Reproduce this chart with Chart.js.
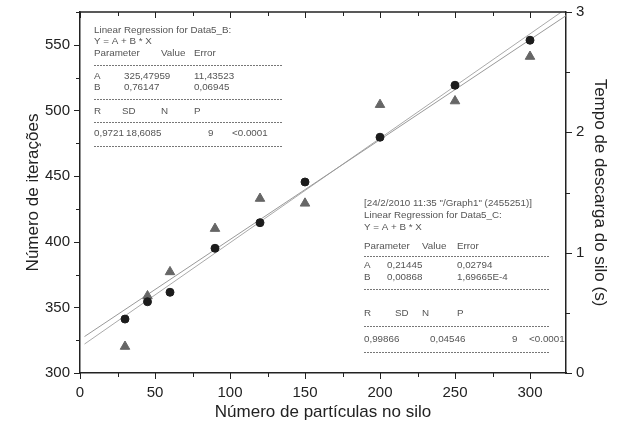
<!DOCTYPE html>
<html>
<head>
<meta charset="utf-8">
<script src="https://cdn.jsdelivr.net/npm/chart.js@4.4.1/dist/chart.umd.min.js"></script>
<style>
html, body { margin: 0; padding: 0; background: #fff; }
#wrap { width: 620px; height: 431px; }
</style>
</head>
<body>
<div id="wrap"><canvas id="grafico"></canvas></div>
<script>
// dados
var particulas = [30, 45, 60, 90, 120, 150, 200, 250, 300];
var iteracoes = [341.1, 354.3, 361.5, 395.0, 414.5, 445.5, 479.6, 519.2, 553.5];
var tempoDescarga = [0.22, 0.64, 0.84, 1.20, 1.45, 1.41, 2.23, 2.26, 2.63];

// parametros das regressoes (das caixas de texto)
var regB = [325.47959, 0.76147];
var regC = [0.21445, 0.00868];
var retaX = [3, 330];

var fonte = "'Liberation Sans', Arial, sans-serif";

function pontos(xs, ys) {
    return xs.map(function (x, i) { return {x: x, y: ys[i]}; });
}

function reta(par) {
    return retaX.map(function (x) { return {x: x, y: par[0] + par[1] * x}; });
}

function linha(ctx, x1, y1, x2, y2) {
    ctx.beginPath();
    ctx.moveTo(x1, y1);
    ctx.lineTo(x2, y2);
    ctx.stroke();
}

function semPadding(s) {
    s.paddingTop = 0;
    s.paddingBottom = 0;
}

var marcasEixos = {
    id: 'marcasEixos',
    afterDraw: function (chart) {
        var ctx = chart.ctx, a = chart.chartArea;
        var sx = chart.scales.x, sy = chart.scales.y, sy2 = chart.scales.y2;
        ctx.save();
        ctx.strokeStyle = '#222';
        ctx.lineWidth = 1.5;
        linha(ctx, a.left, a.top, a.right, a.top);
        ctx.lineWidth = 1;
        var v, p, len;
        for (v = 0; v <= sx.max; v += 25) {
            p = Math.round(sx.getPixelForValue(v)) + 0.5;
            len = v % 50 === 0 ? 6 : 4;
            linha(ctx, p, a.bottom, p, a.bottom + len);
            linha(ctx, p, a.top, p, a.top + len);
        }
        for (v = sy.min; v <= sy.max; v += 25) {
            p = Math.round(sy.getPixelForValue(v)) + 0.5;
            len = v % 50 === 0 ? 6 : 4;
            linha(ctx, a.left, p, a.left - len, p);
        }
        for (v = 0; v <= sy2.max; v += 0.5) {
            p = Math.round(sy2.getPixelForValue(v)) + 0.5;
            len = v % 1 === 0 ? 6 : 4;
            linha(ctx, a.right, p, a.right + len, p);
        }
        ctx.restore();
    }
};

var caixasTexto = {
    id: 'caixasTexto',
    afterDraw: function (chart) {
        var ctx = chart.ctx;
        ctx.save();
        ctx.font = '9.8px ' + fonte;
        ctx.fillStyle = '#555';
        ctx.textBaseline = 'middle';
        var t = function (s, x, y) { ctx.fillText(s, x, y); };
        var tracejado = function (x1, x2, y) {
            ctx.strokeStyle = '#777';
            ctx.lineWidth = 1;
            ctx.setLineDash([2, 1]);
            linha(ctx, x1, y + 0.5, x2, y + 0.5);
            ctx.setLineDash([]);
        };

        t('Linear Regression for Data5_B:', 94, 30);
        t('Y = A + B * X', 94, 41);
        t('Parameter', 94, 53); t('Value', 161, 53); t('Error', 194, 53);
        tracejado(94, 283, 65);
        t('A', 94, 76); t('325,47959', 124, 76); t('11,43523', 194, 76);
        t('B', 94, 87); t('0,76147', 124, 87); t('0,06945', 194, 87);
        tracejado(94, 283, 99);
        t('R', 94, 111); t('SD', 122, 111); t('N', 161, 111); t('P', 194, 111);
        tracejado(94, 283, 122);
        t('0,9721', 94, 133); t('18,6085', 126, 133); t('9', 208, 133); t('<0.0001', 232, 133);
        tracejado(94, 283, 146);

        t('[24/2/2010 11:35 "/Graph1" (2455251)]', 364, 203);
        t('Linear Regression for Data5_C:', 364, 215);
        t('Y = A + B * X', 364, 227);
        t('Parameter', 364, 246); t('Value', 422, 246); t('Error', 457, 246);
        tracejado(364, 550, 256);
        t('A', 364, 265); t('0,21445', 387, 265); t('0,02794', 457, 265);
        t('B', 364, 277); t('0,00868', 387, 277); t('1,69665E-4', 457, 277);
        tracejado(364, 550, 289);
        t('R', 364, 313); t('SD', 395, 313); t('N', 422, 313); t('P', 457, 313);
        tracejado(364, 550, 326);
        t('0,99866', 364, 339); t('0,04546', 430, 339); t('9', 512, 339); t('<0.0001', 529, 339);
        tracejado(364, 550, 352);
        ctx.restore();
    }
};

var grafico = new Chart(document.getElementById('grafico'), {
    type: 'scatter',
    data: {
        datasets: [{
                label: 'Data5_B',
                data: pontos(particulas, iteracoes),
                yAxisID: 'y',
                pointStyle: 'circle',
                pointRadius: 4,
                borderWidth: 1,
                backgroundColor: '#1c1c1c',
                borderColor: '#1c1c1c'
            }, {
                label: 'Data5_C',
                data: pontos(particulas, tempoDescarga),
                yAxisID: 'y2',
                pointStyle: 'triangle',
                pointRadius: 5.5,
                borderWidth: 1,
                backgroundColor: '#666',
                borderColor: '#666'
            }, {
                label: 'Linear Fit B',
                data: reta(regB),
                yAxisID: 'y',
                showLine: true,
                pointRadius: 0,
                borderColor: '#999',
                borderWidth: 1
            }, {
                label: 'Linear Fit C',
                data: reta(regC),
                yAxisID: 'y2',
                showLine: true,
                pointRadius: 0,
                borderColor: '#aaa',
                borderWidth: 1
            }]
    },
    options: {
        maintainAspectRatio: false,
        responsive: true,
        animation: false,
        layout: {padding: {top: 12}},
        plugins: {
            legend: {display: false},
            tooltip: {enabled: false}
        },
        scales: {
            x: {
                type: 'linear',
                position: 'bottom',
                min: 0,
                max: 324,
                afterFit: function (s) { s.height = 58; },
                grid: {display: false, drawTicks: false},
                border: {display: true, color: '#222', width: 1.5},
                ticks: {stepSize: 50, includeBounds: false, padding: 11, color: '#222', font: {family: fonte, size: 15}},
                title: {display: true, text: 'Número de partículas no silo', color: '#222', font: {family: fonte, size: 17}, padding: {bottom: 8}}
            },
            y: {
                type: 'linear',
                position: 'left',
                min: 300,
                max: 575,
                afterFit: function (s) { s.width = 80; semPadding(s); },
                grid: {display: false, drawTicks: false},
                border: {display: true, color: '#222', width: 1.5},
                ticks: {stepSize: 50, includeBounds: false, padding: 10, color: '#222', font: {family: fonte, size: 15}},
                title: {display: true, text: 'Número de iterações', color: '#222', font: {family: fonte, size: 17}, padding: {top: 23}}
            },
            y2: {
                type: 'linear',
                position: 'right',
                min: 0,
                max: 3,
                afterFit: function (s) { s.width = 54; semPadding(s); },
                grid: {display: false, drawTicks: false},
                border: {display: true, color: '#222', width: 1.5},
                ticks: {stepSize: 1, padding: 10, color: '#222', font: {family: fonte, size: 15}},
                title: {display: true, text: 'Tempo de descarga do silo (s)', color: '#222', font: {family: fonte, size: 17}, padding: {top: 10}}
            }
        }
    },
    plugins: [marcasEixos, caixasTexto]
});
</script>
</body>
</html>
